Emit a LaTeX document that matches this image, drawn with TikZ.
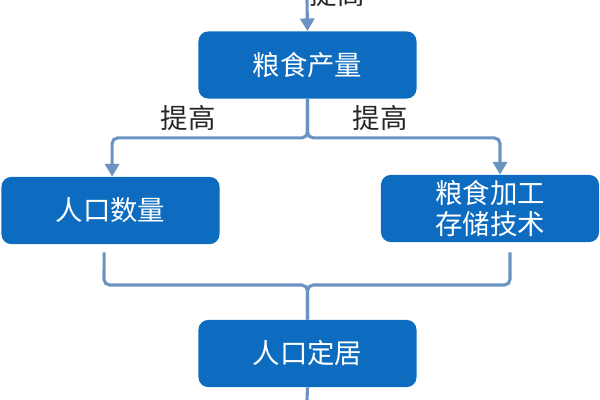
\documentclass[tikz,border=0pt]{standalone}
\usepackage{fontspec}
\setmainfont{Noto Sans CJK SC}
\usepackage{tikz}
\usetikzlibrary{arrows.meta}
\usetikzlibrary{positioning}
\usepackage{xcolor}
\definecolor{boxblue}{HTML}{0D6CBF}
\definecolor{linkblue}{HTML}{6B93C2}

\begin{document}
\begin{tikzpicture}[x=0.025cm,y=-0.025cm,
  stage/.style={rounded corners=7pt, fill=boxblue, text=white, align=center,
    minimum width=5.45cm, minimum height=1.68cm, inner sep=0pt,
    font=\fontsize{19.5}{22}\selectfont},
  link/.style={linkblue, line width=2.2pt, rounded corners=4pt},
  tip/.style={-{Triangle[width=10pt,length=9pt]}},
  tag/.style={text=black!85, font=\fontsize{19.5}{22}\selectfont, inner sep=0pt}]
\useasboundingbox (0,0) rectangle (600,400);
\node[stage] (grain) at (307.5,65) {粮食产量};
\node[stage] (pop) at (110.5,210.5) {人口数量};
\node[stage] (tech) at (490,208.5) {粮食加工\\存储技术};
\node[stage] (settle) at (307.5,353.5) {人口定居};
\coordinate (in) at (307,0);
\coordinate (out) at (307,400);
% top arrow into grain
\draw[link,tip] (in) -- (grain.north);
\node[tag] (upper) at (337,-6) {提高};
% split below grain
\draw[link,tip] (grain.south) -- ++(0,39) -| ([xshift=0.04cm]pop.north);
\draw[link,tip] (grain.south) -- ++(0,39) -| ([xshift=0.25cm]tech.north);
\node[tag] (left) at (188,118) {提高};
\node[tag] (right) at (380,118) {提高};
% join above settle
\draw[link] ([xshift=-0.16cm,yshift=-0.2cm]pop.south) -- (104,285) -| (settle.north);
\draw[link] ([xshift=0.5cm,yshift=-0.25cm]tech.south) -- (510,285) -| (settle.north);
\draw[link] (settle.south) -- (out);
\end{tikzpicture}
\end{document}
